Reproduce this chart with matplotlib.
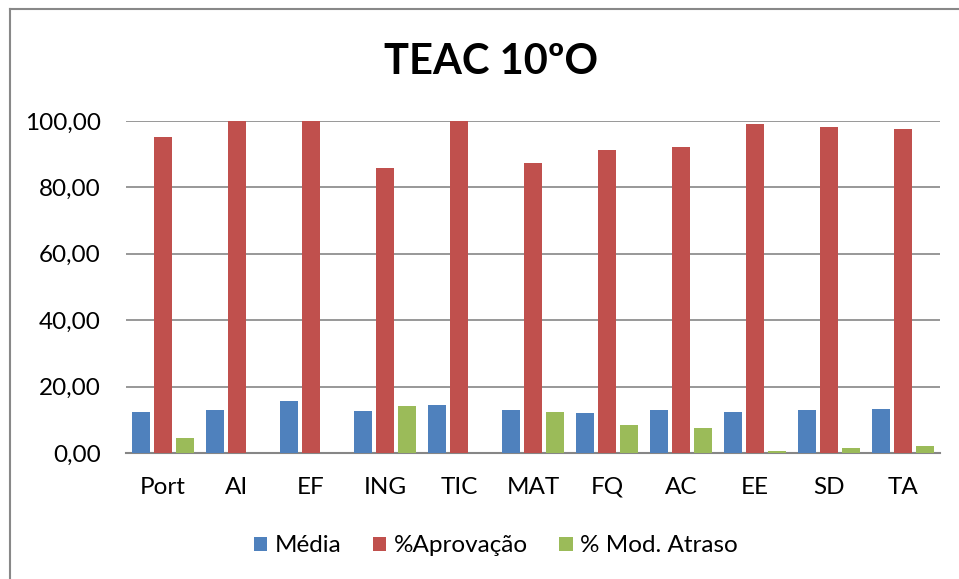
import matplotlib
matplotlib.use("Agg")
import matplotlib.pyplot as plt
import numpy as np
from matplotlib.lines import Line2D

categories = ["Port", "AI", "EF", "ING", "TIC", "MAT", "FQ", "AC", "EE", "SD", "TA"]
media = [12.5, 12.9, 15.6, 12.7, 14.5, 13.0, 12.0, 13.1, 12.4, 13.1, 13.3]
aprovacao = [95.2, 100.0, 100.0, 85.7, 100.0, 87.4, 91.4, 92.2, 99.1, 98.2, 97.6]
mod_atraso = [4.5, 0.0, 0.0, 14.1, 0.0, 12.2, 8.4, 7.5, 0.7, 1.6, 2.2]
series_names = ["Média", "%Aprovação", "% Mod. Atraso"]
colors = ["#4F81BD", "#C0504D", "#9BBB59"]
title = "TEAC 10ºO"
yticks = [0, 20, 40, 60, 80, 100]

plt.rcParams['font.family'] = ['Lato', 'DejaVu Sans']

fig = plt.figure(figsize=(9.59, 5.79), dpi=100)
ax = fig.add_axes([126 / 959, 1 - 453 / 579, (940 - 126) / 959, (453 - 121) / 579])

x = np.arange(len(categories))
w = 0.24
off = 0.30
for i, (vals, name, c) in enumerate(zip([media, aprovacao, mod_atraso], series_names, colors)):
    ax.bar(x + (i - 1) * off, vals, width=w, color=c, label=name, zorder=3)

ax.set_xlim(-0.5, len(categories) - 0.5)
ax.set_ylim(0, 100)
ax.set_yticks(yticks)
ax.set_yticklabels([f"{v:.2f}".replace(".", ",") for v in yticks], fontsize=17.5)
ax.set_xticks(x)
ax.set_xticklabels(categories, fontsize=17.5)
ax.tick_params(axis='y', length=0, pad=18)
ax.tick_params(axis='x', length=0, pad=17)
ax.grid(axis='y', color='#868686', linewidth=1.2, zorder=0)
for s in ['left', 'right', 'top']:
    ax.spines[s].set_visible(False)
ax.spines['bottom'].set_color('#868686')
ax.spines['bottom'].set_linewidth(1.5)

fig.text(491 / 959, 1 - 62 / 579, title, ha='center', va='center', fontsize=30, fontweight='bold')

leg = fig.legend(loc='center', bbox_to_anchor=(496 / 959, 1 - 546 / 579), ncol=3, frameon=False,
                 fontsize=17.5, handlelength=0.55, handleheight=0.55, handletextpad=0.3, columnspacing=1.3)

fig.add_artist(Line2D([10 / 959, 10 / 959], [0, 1 - 9 / 579], transform=fig.transFigure, color='#888888', linewidth=1.5))
fig.add_artist(Line2D([10 / 959, 1], [1 - 9 / 579, 1 - 9 / 579], transform=fig.transFigure, color='#888888', linewidth=1.5))

fig.savefig("out.png", dpi=100)
